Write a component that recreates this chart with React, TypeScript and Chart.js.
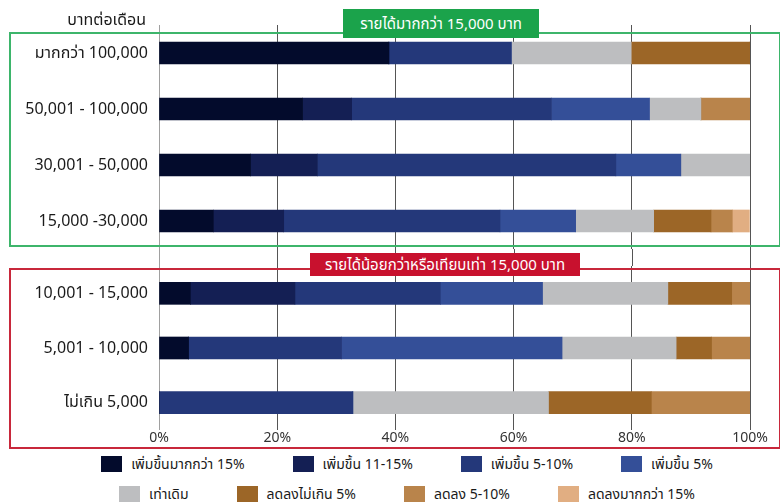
import React, { useEffect, useRef } from "react";
import { Chart, registerables } from "chart.js";

Chart.register(...registerables);

const categories = [
  "มากกว่า 100,000",
  "50,001 - 100,000",
  "30,001 - 50,000",
  "15,000 -30,000",
  "10,001 - 15,000",
  "5,001 - 10,000",
  "ไม่เกิน 5,000",
];

const seriesNames = [
  "เพิ่มขึ้นมากกว่า 15%",
  "เพิ่มขึ้น 11-15%",
  "เพิ่มขึ้น 5-10%",
  "เพิ่มขึ้น 5%",
  "เท่าเดิม",
  "ลดลงไม่เกิน 5%",
  "ลดลง 5-10%",
  "ลดลงมากกว่า 15%",
];

const incOver15 = [38.9, 24.3, 15.5, 9.2, 5.3, 5.0, 0];
const inc11to15 = [0, 8.3, 11.3, 11.9, 17.7, 0, 0];
const inc5to10 = [20.7, 33.8, 50.5, 36.6, 24.6, 25.9, 32.8];
const inc5 = [0, 16.6, 11.0, 12.8, 17.3, 37.3, 0];
const same = [20.3, 8.7, 11.8, 13.2, 21.2, 19.3, 33.1];
const decUnder5 = [20.1, 0, 0, 9.7, 10.8, 6.0, 17.4];
const dec5to10 = [0, 8.4, 0, 3.6, 3.1, 6.5, 16.7];
const decOver15 = [0, 0, 0, 2.9, 0, 0, 0];

const seriesValues = [incOver15, inc11to15, inc5to10, inc5, same, decUnder5, dec5to10, decOver15];

const colors = [
  "#030b2c",
  "#141f54",
  "#24387a",
  "#344f98",
  "#bdbec0",
  "#9c6627",
  "#b9844b",
  "#e1ae82",
];

const xTicks = [0, 20, 40, 60, 80, 100];

const topGroupLabel = "รายได้มากกว่า 15,000 บาท";
const bottomGroupLabel = "รายได้น้อยกว่าหรือเทียบเท่า 15,000 บาท";
const unitLabel = "บาทต่อเดือน";

const FONT = "'Noto Sans', 'Noto Sans Thai', sans-serif";

const gridColor = (ctx: any) => (ctx.index === 0 ? "#a0a0a0" : "#555555");

const gapGridPlugin = {
  id: "gapGrid",
  beforeDatasetsDraw(chart: any) {
    const xs = chart.scales.x;
    const ctx = chart.ctx;
    ctx.save();
    ctx.lineWidth = 1;
    xTicks.forEach((v, i) => {
      const px = Math.round(xs.getPixelForValue(v)) + 0.5;
      ctx.strokeStyle = i === 0 ? "#a0a0a0" : "#555555";
      ctx.beginPath();
      ctx.moveTo(px, 0);
      ctx.lineTo(px, chart.chartArea.top);
      ctx.stroke();
    });
    ctx.restore();
  },
};

function makeConfig(start: number, end: number, showX: boolean, padding: any, plugins: any[]) {
  return {
    type: "bar" as const,
    data: {
      labels: categories.slice(start, end),
      datasets: seriesNames.map((name, i) => ({
        label: name,
        data: seriesValues[i].slice(start, end),
        backgroundColor: colors[i],
        borderWidth: 0,
        barThickness: 22,
      })),
    },
    plugins,
    options: {
      indexAxis: "y" as const,
      animation: false as const,
      responsive: false,
      maintainAspectRatio: false,
      layout: { padding },
      plugins: {
        legend: { display: false },
        tooltip: { enabled: false },
      },
      scales: {
        x: {
          stacked: true,
          min: 0,
          max: 100,
          afterBuildTicks: (scale: any) => {
            scale.ticks = xTicks.map((v) => ({ value: v }));
          },
          afterFit: (scale: any) => {
            scale.height = showX ? 20 : 0;
            scale.paddingLeft = 0;
            scale.paddingRight = 0;
          },
          border: { display: false },
          grid: { color: gridColor, lineWidth: 1, drawTicks: false },
          ticks: {
            display: showX,
            padding: 0,
            color: "#333333",
            font: { family: FONT, size: 14 },
            callback: (v: any) => v + "%",
          },
        },
        y: {
          stacked: true,
          afterFit: (scale: any) => {
            scale.width = 159;
            scale.paddingTop = 0;
            scale.paddingBottom = 0;
          },
          border: { display: false },
          grid: { display: false, drawTicks: false },
          ticks: {
            padding: 11,
            color: "#1a1a1a",
            font: { family: FONT, size: 16 },
          },
        },
      },
    },
  };
}

function BarChart(props: { start: number; end: number; showX: boolean; padding: any; plugins: any[]; top: number; height: number }) {
  const ref = useRef<HTMLCanvasElement>(null);
  useEffect(() => {
    if (!ref.current) return;
    const chart = new Chart(ref.current, makeConfig(props.start, props.end, props.showX, props.padding, props.plugins) as any);
    return () => chart.destroy();
  }, []);
  return (
    <canvas
      ref={ref}
      width={780}
      height={props.height}
      style={{ position: "absolute", left: 0, top: props.top, width: 780, height: props.height }}
    />
  );
}

const legendRows = [seriesNames.slice(0, 4), seriesNames.slice(4, 8)];

export default function App() {
  useEffect(() => {
    document.body.style.margin = "0";
  }, []);
  return (
    <div
      style={{
        position: "relative",
        width: 780,
        height: 503,
        background: "#ffffff",
        overflow: "hidden",
        fontFamily: FONT,
      }}
    >
      <BarChart start={0} end={4} showX={false} padding={{ left: 0, right: 30, top: 0, bottom: 0 }} plugins={[]} top={25} height={224} />
      <BarChart start={4} end={7} showX={true} padding={{ left: 0, right: 30, top: 17, bottom: 0 }} plugins={[gapGridPlugin]} top={249} height={201} />

      <div
        style={{
          position: "absolute",
          left: 0,
          top: 9,
          width: 146,
          textAlign: "right",
          fontSize: 16,
          color: "#1a1a1a",
          lineHeight: "20px",
        }}
      >
        {unitLabel}
      </div>

      <div style={{ position: "absolute", left: 9, top: 32, width: 768, height: 211, border: "2px solid #3db56b", pointerEvents: "none" }} />
      <div style={{ position: "absolute", left: 9, top: 268, width: 768, height: 177, border: "2px solid #c8283b", pointerEvents: "none" }} />

      <div
        style={{
          position: "absolute",
          left: 343,
          top: 9,
          width: 196,
          height: 29,
          background: "#1ba34b",
          color: "#ffffff",
          fontSize: 15,
          lineHeight: "29px",
          textAlign: "center",
          whiteSpace: "nowrap",
        }}
      >
        {topGroupLabel}
      </div>
      <div
        style={{
          position: "absolute",
          left: 310,
          top: 253,
          width: 270,
          height: 23,
          background: "#c8112e",
          color: "#ffffff",
          fontSize: 15,
          lineHeight: "23px",
          textAlign: "center",
          whiteSpace: "nowrap",
        }}
      >
        {bottomGroupLabel}
      </div>

      {legendRows.map((row, r) => (
        <div
          key={r}
          style={{
            position: "absolute",
            left: 0,
            width: 814,
            top: r === 0 ? 455 : 485,
            height: 18,
            display: "flex",
            justifyContent: "center",
            gap: 48,
          }}
        >
          {row.map((name) => {
            const idx = seriesNames.indexOf(name);
            return (
              <div key={name} style={{ display: "flex", alignItems: "center", gap: 9 }}>
                <div style={{ width: 21, height: 16, background: colors[idx] }} />
                <span style={{ fontSize: 14, color: "#1a1a1a", whiteSpace: "nowrap" }}>{name}</span>
              </div>
            );
          })}
        </div>
      ))}
    </div>
  );
}
